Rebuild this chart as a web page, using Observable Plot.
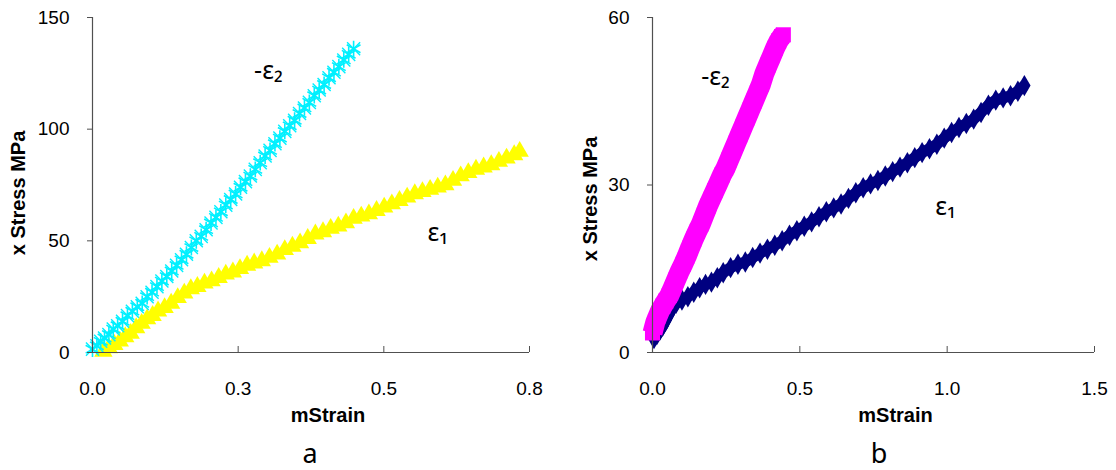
<!DOCTYPE html>
<html><head><meta charset="utf-8">
<script src="https://cdn.jsdelivr.net/npm/d3@7"></script>
<script src="https://cdn.jsdelivr.net/npm/@observablehq/plot@0.6"></script>
<style>
body{margin:0;background:#fff;}
#fig{display:flex;width:1116px;height:470px;overflow:hidden;}
.panel{width:558px;}
.cap{font-family:"Noto Sans",sans-serif;font-size:27px;height:35px;line-height:35px;text-align:center;color:#000;}
</style></head><body><div id="fig"></div>
<script>
// ---------- Panel a data ----------
const aXTicks = [0, 0.8/3, 1.6/3, 0.8];
const aYTicks = [0, 50, 100, 150];
const aE2x = [0.000,0.008,0.015,0.022,0.030,0.038,0.046,0.055,0.064,0.073,0.082,0.091,0.100,0.109,0.118,0.127,0.136,0.145,0.154,0.163,0.172,0.181,0.190,0.199,0.208,0.217,0.226,0.235,0.244,0.253,0.262,0.271,0.280,0.289,0.298,0.307,0.316,0.325,0.334,0.343,0.352,0.361,0.370,0.379,0.388,0.397,0.406,0.415,0.424,0.433,0.442,0.451,0.460,0.469,0.478];
const aE2y = [1.5,3,5,6.5,8,10.5,12,14,16.5,18.5,20.5,22,25,27,29.5,32,34,36.5,39,41.5,44,47,50,52,55,58,60.5,63,66,68.5,71,74,76.5,79,82,85,88,90.5,93.5,96,99,101.5,104,107,109.5,112,115,117.5,120,123,125.5,128,131,133.5,136];
const aE1x = [0.020,0.030,0.040,0.050,0.060,0.070,0.080,0.090,0.100,0.110,0.120,0.132,0.144,0.156,0.168,0.180,0.192,0.205,0.218,0.231,0.244,0.257,0.270,0.283,0.296,0.310,0.324,0.338,0.352,0.366,0.380,0.394,0.408,0.422,0.436,0.450,0.464,0.478,0.492,0.506,0.520,0.534,0.548,0.562,0.576,0.590,0.604,0.618,0.632,0.646,0.660,0.674,0.688,0.702,0.716,0.730,0.744,0.758,0.772,0.782];
const aE1y = [0.5,2,3.5,5,7,8.5,11,13,15,16.5,18.5,20,22,24.5,26.5,28.5,29.5,31,32,33.5,35,36,37.5,39,40,41,42.5,44,46,47.5,49,51,53,54,55.5,56.5,58,60,61,62,63.5,65,66.5,68,69.5,71,72,73,74,75,77,79,80.5,82,83,84,85.5,87,88.5,90];
const aLabels = ["-ε₂", "ε₁"];
const aLabelX = [0.322, 0.632];
const aLabelY = [126, 53.7];

// ---------- Panel b data ----------
const bXTicks = [0, 0.5, 1.0, 1.5];
const bYTicks = [0, 30, 60];
const bE2x = [0.000,0.005,0.010,0.018,0.026,0.035,0.045,0.057,0.068,0.080,0.092,0.104,0.116,0.128,0.140,0.152,0.164,0.176,0.188,0.200,0.212,0.224,0.236,0.248,0.260,0.272,0.284,0.296,0.308,0.320,0.332,0.344,0.356,0.368,0.380,0.392,0.404,0.416,0.428,0.438,0.444];
const bE2y = [3.5,4.5,5.5,6.5,7.5,8.3,9.2,10.2,11.5,13,14.5,15.8,17.2,18.8,20.3,21.7,23,24.6,26.2,27.6,29,30.4,31.8,33,34.5,36,37.5,39,40.5,42,43.5,45,46.5,48,50,51.5,53,54.5,55.8,56.6,56.9];
const bE1x = [0.005,0.015,0.025,0.035,0.045,0.055,0.065,0.080,0.100,0.120,0.140,0.160,0.180,0.200,0.220,0.240,0.265,0.290,0.315,0.340,0.365,0.390,0.415,0.440,0.465,0.490,0.515,0.540,0.565,0.590,0.615,0.640,0.665,0.690,0.715,0.740,0.765,0.790,0.815,0.840,0.865,0.890,0.915,0.940,0.965,0.990,1.015,1.040,1.065,1.090,1.115,1.140,1.165,1.190,1.215,1.240,1.262];
const bE1y = [2.5,3.2,4.0,4.8,5.8,6.8,7.8,8.8,9.4,10.0,10.8,11.6,12.2,12.6,13.4,14.3,15.2,15.8,16.2,17.0,17.8,18.5,19.2,20.0,21.0,21.8,22.6,23.4,24.3,25.2,25.9,26.6,27.6,28.6,29.5,30.2,30.8,31.6,32.4,33.2,34.0,34.9,35.8,36.5,37.3,38.4,39.4,40.3,41.0,41.8,43.0,44.3,45.2,45.6,46.0,46.8,47.8];
const bLabels = ["-ε₂", "ε₁"];
const bLabelX = [0.214, 0.994];
const bLabelY = [49.3, 26];

const xTitle = "mStrain";
const yTitle = "x Stress MPa";
const captions = ["a", "b"];

const axisColor = "#505050";
const zip = (xs, ys) => xs.map((x, i) => ({x, y: ys[i]}));
const zipT = (ts, xs, ys) => ts.map((t, i) => ({t, x: xs[i], y: ys[i]}));

function makePanel(o) {
  return Plot.plot({
    width: 558, height: 435,
    marginLeft: o.ml, marginRight: o.mr, marginTop: 17, marginBottom: 83,
    style: {fontFamily: '"Liberation Sans", Arial, sans-serif', fontSize: "19px", color: "#000", background: "#fff", overflow: "visible"},
    x: {domain: o.xDomain},
    y: {domain: o.yDomain},
    marks: [
      ...o.series,
      Plot.ruleX([0], {stroke: axisColor, strokeWidth: 1.2}),
      Plot.ruleY([0], {stroke: axisColor, strokeWidth: 1.2}),
      Plot.axisX(o.xTicks, {tickSize: -6, fill: "none", stroke: axisColor, label: null}),
      Plot.axisX(o.xTicks, {tickSize: 0, tickPadding: 29, tickFormat: d3.format(".1f"), label: null, fill: "#000", fontSize: 19}),
      Plot.axisY(o.yTicks, {tickSize: 5, tickPadding: 18, stroke: axisColor, label: null, fill: "#000", fontSize: 19}),
      Plot.text([xTitle], {frameAnchor: "bottom", dx: o.xtDx, dy: 63, fontWeight: "bold", fontSize: 20, lineAnchor: "middle"}),
      Plot.text([yTitle], {frameAnchor: "left", rotate: -90, dx: o.ytDx, dy: o.ytDy, fontWeight: "bold", fontSize: 20, lineAnchor: "middle", textAnchor: "middle"}),
      Plot.text(o.labels, {x: "x", y: "y", text: "t", fontFamily: '"Noto Sans", sans-serif', fontSize: 25, lineAnchor: "middle", textAnchor: "middle"})
    ]
  });
}

const panelA = makePanel({
  ml: 92, mr: 29, xDomain: [0, 0.8], yDomain: [0, 150], xTicks: aXTicks, yTicks: aYTicks,
  xtDx: 17, ytDx: -74, ytDy: 8,
  labels: zipT(aLabels, aLabelX, aLabelY),
  series: [
    Plot.dot(zip(aE1x, aE1y), {x: "x", y: "y", symbol: "triangle", fill: "#FFFF00", r: 6.8}),
    Plot.dot(zip(aE2x, aE2y), {x: "x", y: "y", symbol: "asterisk", stroke: "#00F0FF", strokeWidth: 1.6, r: 7.5}),
    Plot.dot(zip(aE2x, aE2y), {x: "x", y: "y", symbol: "times", stroke: "#00F0FF", strokeWidth: 1.4, r: 6})
  ]
});

const panelB = makePanel({
  ml: 94, mr: 22, xDomain: [0, 1.5], yDomain: [0, 60], xTicks: bXTicks, yTicks: bYTicks,
  xtDx: 22, ytDx: -62, ytDy: 14,
  labels: zipT(bLabels, bLabelX, bLabelY),
  series: [
    Plot.line(zip(bE1x, bE1y), {x: "x", y: "y", stroke: "#000080", strokeWidth: 11, strokeLinejoin: "round", strokeLinecap: "butt"}),
    Plot.dot(zip(bE1x, bE1y), {x: "x", y: "y", symbol: "diamond", fill: "#000080", r: 6.5}),
    Plot.line(zip(bE2x, bE2y), {x: "x", y: "y", stroke: "#FF00FF", strokeWidth: 20, strokeLinejoin: "round", strokeLinecap: "butt"}),
    Plot.dot(zip(bE2x, bE2y), {x: "x", y: "y", symbol: "square", fill: "#FF00FF", r: 8.5})
  ]
});

const fig = document.getElementById("fig");
[[panelA, captions[0], 62], [panelB, captions[1], 84]].forEach(([svg, cap, pad]) => {
  const div = document.createElement("div");
  div.className = "panel";
  div.appendChild(svg);
  const c = document.createElement("div");
  c.className = "cap";
  c.style.paddingLeft = pad + "px";
  c.textContent = cap;
  div.appendChild(c);
  fig.appendChild(div);
});
</script></body></html>
